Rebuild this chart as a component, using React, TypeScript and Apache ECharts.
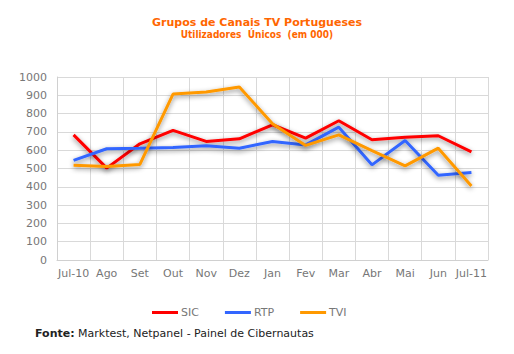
import React, { useEffect, useRef } from "react";
import * as echarts from "echarts";

const months = ["Jul-10", "Ago", "Set", "Out", "Nov", "Dez", "Jan", "Fev", "Mar", "Abr", "Mai", "Jun", "Jul-11"];
const sic = [684, 502, 635, 708, 648, 662, 739, 666, 761, 657, 671, 679, 591];
const rtp = [544, 608, 611, 615, 624, 611, 648, 629, 726, 520, 653, 463, 478];
const tvi = [518, 511, 522, 907, 918, 945, 745, 626, 684, 598, 514, 611, 405];
const yTicks = { min: 0, max: 1000, interval: 100 };

const FONT = "DejaVu Sans, Verdana, sans-serif";
const FONT_C = "DejaVu Sans Condensed, DejaVu Sans, sans-serif";

export default function App() {
  const ref = useRef<HTMLDivElement>(null);
  useEffect(() => {
    if (!ref.current) return;
    const chart = echarts.init(ref.current, null, { renderer: "svg" });
    const mk = (name: string, data: number[], color: string) => ({
      name,
      type: "line",
      data,
      symbol: "none",
      color,
      lineStyle: {
        width: 3,
        color,
        shadowColor: "rgba(0,0,0,0.45)",
        shadowBlur: 5,
        shadowOffsetY: 2,
      },
    });
    chart.setOption({
      animation: false,
      textStyle: { fontFamily: FONT },
      title: {
        text: "Grupos de Canais TV Portugueses",
        subtext: "Utilizadores  Únicos  (em 000)",
        left: "center",
        top: 12,
        itemGap: 1,
        textStyle: { color: "#FF6600", fontSize: 11, fontWeight: "bold", fontFamily: FONT },
        subtextStyle: { color: "#FF6600", fontSize: 10, fontWeight: "bold", fontFamily: FONT_C },
      },
      legend: {
        left: 147,
        top: 302,
        itemWidth: 26,
        itemHeight: 3,
        itemGap: 26,
        icon: "rect",
        textStyle: { color: "#777", fontSize: 11, fontFamily: FONT, padding: [0, 0, 0, -2] },
        data: ["SIC", "RTP", "TVI"],
      },
      grid: { left: 57, right: 26, top: 77, bottom: 94 },
      xAxis: {
        type: "category",
        data: months,
        boundaryGap: true,
        axisLine: { lineStyle: { color: "#d0d0d0" } },
        axisTick: { show: false },
        splitLine: { show: true, lineStyle: { color: "#d9d9d9" } },
        axisLabel: { color: "#777", fontSize: 11, fontFamily: FONT, margin: 8, interval: 0 },
      },
      yAxis: {
        type: "value",
        min: yTicks.min,
        max: yTicks.max,
        interval: yTicks.interval,
        axisLine: { show: true, lineStyle: { color: "#d0d0d0" } },
        axisTick: { show: false },
        splitLine: { lineStyle: { color: "#d9d9d9" } },
        axisLabel: { color: "#777", fontSize: 11, fontFamily: FONT, margin: 10, formatter: (v: number) => String(v) },
      },
      graphic: [
        {
          type: "text",
          left: 35,
          top: 328,
          style: {
            text: "{b|Fonte:} Marktest, Netpanel - Painel de Cibernautas",
            fill: "#222",
            font: `11px ${FONT}`,
            rich: {
              b: { fontWeight: "bold", fontSize: 11, fontFamily: FONT, fill: "#222" },
            },
          },
        },
      ],
      series: [mk("SIC", sic, "#FF0000"), mk("RTP", rtp, "#3366FF"), mk("TVI", tvi, "#FF9900")],
    });
    return () => chart.dispose();
  }, []);
  return <div ref={ref} style={{ width: 514, height: 354, position: "absolute", left: 0, top: 0 }} />;
}
